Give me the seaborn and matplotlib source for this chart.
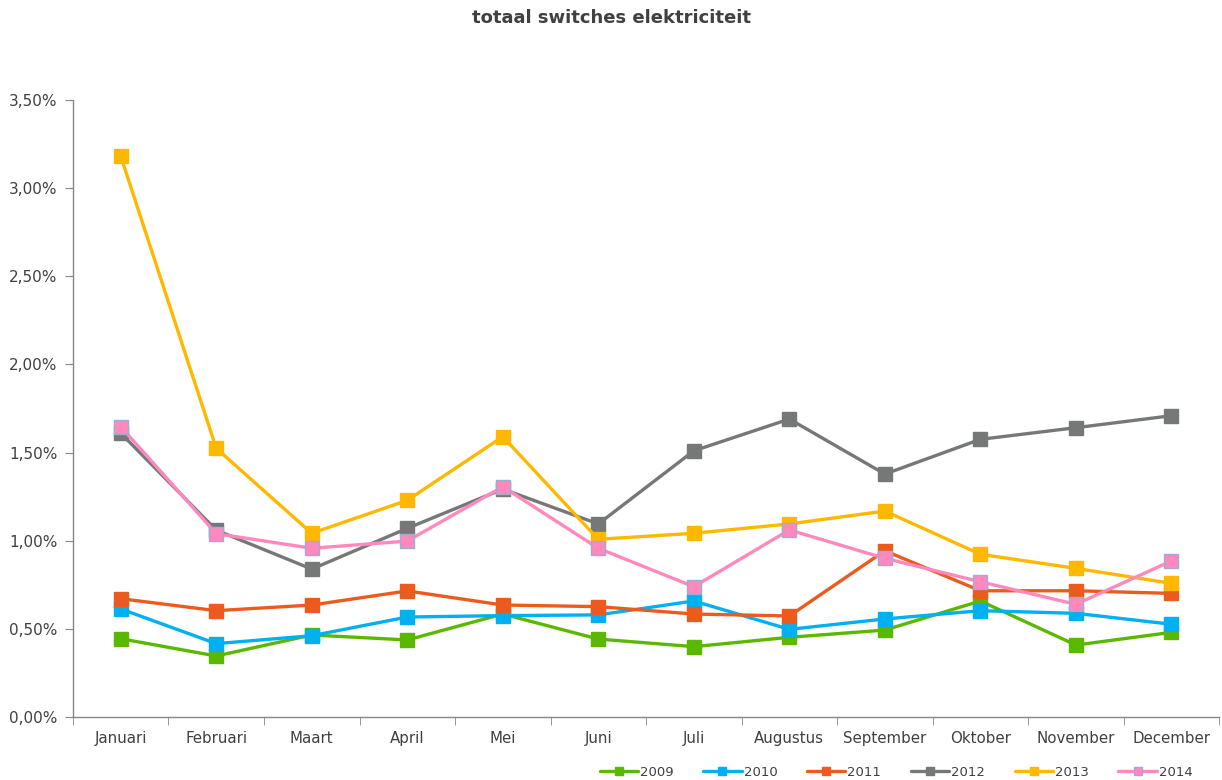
import matplotlib
matplotlib.use("Agg")
import matplotlib.pyplot as plt
from matplotlib.ticker import FuncFormatter, FixedLocator
import seaborn as sns
import pandas as pd

months = ["Januari", "Februari", "Maart", "April", "Mei", "Juni", "Juli",
          "Augustus", "September", "Oktober", "November", "December"]
years = ["2009", "2010", "2011", "2012", "2013", "2014"]

v2009 = [0.444, 0.346, 0.465, 0.437, 0.584, 0.442, 0.399, 0.452, 0.493, 0.658, 0.408, 0.480]
v2010 = [0.613, 0.416, 0.461, 0.567, 0.575, 0.579, 0.658, 0.497, 0.556, 0.603, 0.588, 0.526]
v2011 = [0.671, 0.603, 0.635, 0.715, 0.635, 0.626, 0.584, 0.573, 0.943, 0.716, 0.716, 0.701]
v2012 = [1.610, 1.060, 0.839, 1.070, 1.293, 1.095, 1.510, 1.690, 1.378, 1.575, 1.641, 1.709]
v2013 = [3.182, 1.524, 1.042, 1.229, 1.590, 1.008, 1.042, 1.095, 1.168, 0.923, 0.843, 0.758]
v2014 = [1.647, 1.040, 0.957, 0.998, 1.306, 0.957, 0.739, 1.061, 0.900, 0.767, 0.639, 0.885]

colors = {"2009": "#5BB800", "2010": "#00B0F0", "2011": "#EB5B1E",
          "2012": "#767878", "2013": "#FFB800", "2014": "#FF88BC"}
edges = {"2009": "#5BB800", "2010": "#00B0F0", "2011": "#EB5B1E",
         "2012": "#767878", "2013": "#FFB800", "2014": "#9AADD4"}

series = dict(zip(years, [v2009, v2010, v2011, v2012, v2013, v2014]))
rows = []
for y, vals in series.items():
    for m, v in zip(months, vals):
        rows.append({"maand": m, "jaar": y, "waarde": v})
df = pd.DataFrame(rows)

sns.set_style("white")
plt.rcParams['font.family'] = ['DejaVu Sans']

fig = plt.figure(figsize=(12.22, 7.8), dpi=100)
ax = fig.add_axes([0.0597, 0.0808, 0.938, 0.791])

for y in years:
    sub = df[df["jaar"] == y]
    sns.lineplot(data=sub, x="maand", y="waarde", ax=ax, color=colors[y],
                 linewidth=2.4, marker="s", markersize=10,
                 markeredgecolor=edges[y], markeredgewidth=1.0,
                 label=y, sort=False)

ax.set_xlim(-0.5, 11.5)
ax.set_ylim(0, 3.5)
ax.set_yticks([0, 0.5, 1.0, 1.5, 2.0, 2.5, 3.0, 3.5])
ax.yaxis.set_major_formatter(FuncFormatter(lambda v, p: f"{v:.2f}%".replace(".", ",")))
ax.set_xticks(range(12))
ax.set_xticklabels(months)
ax.xaxis.set_minor_locator(FixedLocator([i + 0.5 for i in range(-1, 12)]))
ax.tick_params(axis="x", which="major", length=0, pad=10, labelsize=10.8, colors="#404040")
ax.tick_params(axis="x", which="minor", length=6, color="#868686", direction="out", bottom=True)
ax.tick_params(axis="y", which="major", length=6, color="#868686", direction="out",
               labelsize=11, labelcolor="#404040", left=True, pad=5)
ax.set_xlabel("")
ax.set_ylabel("")
for s in ["top", "right"]:
    ax.spines[s].set_visible(False)
for s in ["left", "bottom"]:
    ax.spines[s].set_color("#868686")
    ax.spines[s].set_linewidth(1.0)
ax.grid(False)

fig.suptitle("totaal switches elektriciteit", fontsize=13, fontweight="bold",
             color="#404040", y=0.988)

leg = ax.legend(loc="lower right", bbox_to_anchor=(0.987, -0.119), ncol=6, frameon=False,
                fontsize=9.5, handlelength=2.9, columnspacing=2.25, handletextpad=0.15,
                markerscale=0.55)
for t in leg.get_texts():
    t.set_color("#404040")

fig.savefig("out.png", dpi=100)
